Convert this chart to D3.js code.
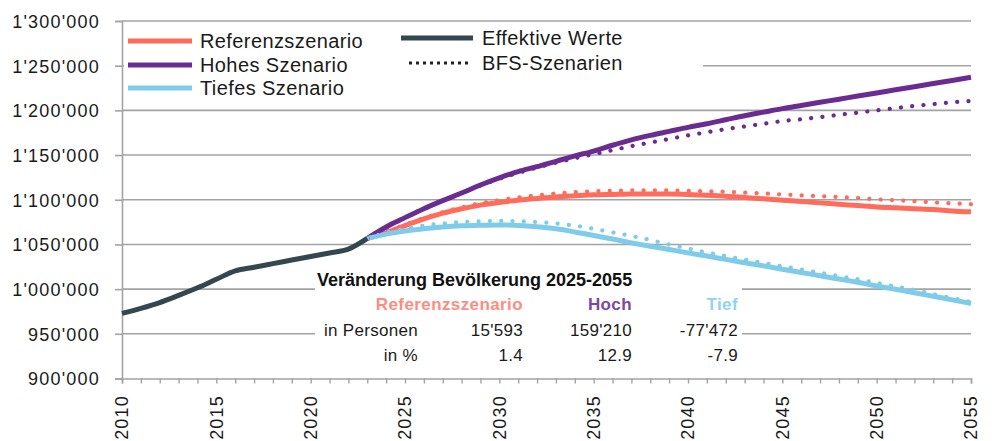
<!DOCTYPE html>
<html lang="de">
<head>
<meta charset="UTF-8">
<title>Bevölkerungsszenarien</title>
<script src="https://cdn.jsdelivr.net/npm/d3@7"></script>
<style>
    body { margin: 0; background: #fff; font-family: "Liberation Sans", Arial, sans-serif; }
    svg { display: block; }
</style>
</head>
<body>
<svg id="chart" width="992" height="441"></svg>
<script>
// effektive Werte 2010-2023
var effYears = d3.range(2010, 2024);
var effektiv = [972800, 978500, 985000, 993000, 1001500, 1011000, 1020400, 1024500, 1028500, 1032500, 1036500, 1040500, 1044700, 1056700];

// Szenarien 2023-2055
var scenYears = d3.range(2023, 2056);
var referenz = [1056700, 1063000, 1071000, 1078500, 1085000, 1090000, 1094000, 1097000, 1099500, 1101500, 1103000,
    1104500, 1105500, 1106000, 1106500, 1106500, 1106500, 1106000, 1105000, 1104000, 1102500, 1101000, 1099500,
    1098000, 1096500, 1095000, 1093500, 1092000, 1091000, 1090000, 1089000, 1087500, 1086500];
var hoch = [1056700, 1069500, 1080000, 1090000, 1099000, 1107500, 1116500, 1124500, 1131500, 1137000, 1143000,
    1149000, 1154500, 1161000, 1167000, 1172000, 1176500, 1181000, 1185000, 1189500, 1194000, 1198000, 1202000,
    1205500, 1209000, 1212500, 1216000, 1219500, 1223000, 1226500, 1230000, 1233500, 1237000];
var tief = [1056700, 1061500, 1065000, 1067500, 1069500, 1070800, 1071500, 1071800, 1071300, 1069800, 1067500,
    1064000, 1060000, 1056000, 1051800, 1048000, 1044300, 1040600, 1037000, 1033300, 1029600, 1026000, 1022300,
    1018600, 1015000, 1011300, 1007600, 1003500, 999800, 996000, 992000, 988000, 984000];

// BFS-Szenarien (gepunktet)
var bfsReferenz = [1056700, 1064000, 1072000, 1079500, 1086000, 1091500, 1096000, 1099500, 1102500, 1105000, 1107000,
    1108500, 1109500, 1110000, 1110500, 1110500, 1110500, 1110000, 1109500, 1109000, 1108000, 1107000, 1106000,
    1105000, 1104000, 1103000, 1102000, 1100500, 1099500, 1098500, 1097000, 1096000, 1095000];
var bfsHoch = [1056700, 1069000, 1080000, 1090000, 1099000, 1107500, 1116000, 1123500, 1130000, 1136000, 1141500,
    1146500, 1151000, 1155500, 1160000, 1164000, 1168000, 1172000, 1175500, 1179000, 1182000, 1185000, 1188000,
    1190000, 1192500, 1195000, 1197500, 1200000, 1202500, 1205000, 1207000, 1209000, 1210500];
var bfsTief = [1056700, 1063000, 1067500, 1071000, 1073500, 1075000, 1076000, 1076300, 1076000, 1075000, 1073500,
    1071000, 1067500, 1063500, 1059500, 1055000, 1050000, 1045500, 1041000, 1037000, 1033000, 1029300, 1025600,
    1022000, 1018300, 1014600, 1011000, 1007000, 1003000, 999000, 994500, 990000, 985500];

var yTicks = d3.range(900000, 1300001, 50000);
var xLabelYears = d3.range(2010, 2056, 5);

var tableTitle = "Veränderung Bevölkerung 2025-2055";
var tableCols = ["Referenzszenario", "Hoch", "Tief"];
var tableRows = [
    {label: "in Personen", values: ["15'593", "159'210", "-77'472"]},
    {label: "in %", values: ["1.4", "12.9", "-7.9"]}
];

var colors = {ref: "#ff6c5c", hoch: "#6b2c91", tief: "#7ecbea", eff: "#34464f"};
var headColors = ["#ff8c80", "#7a4aa0", "#8fd3ee"];

var svg = d3.select("#chart");
var m = {left: 122, right: 971, top: 21, bottom: 378.5};

var x = d3.scaleLinear().domain([2010, 2055]).range([m.left, m.right]);
var y = d3.scaleLinear().domain([900000, 1300000]).range([m.bottom, m.top]);

var loc = d3.formatLocale({decimal: ".", thousands: "'", grouping: [3], currency: ["", ""]});
var fmt = loc.format(",d");

// grid
svg.append("g").selectAll("line").data(yTicks.slice(1)).join("line")
    .attr("x1", m.left).attr("x2", m.right)
    .attr("y1", function(d){ return y(d); }).attr("y2", function(d){ return y(d); })
    .attr("stroke", "#a3a3a3").attr("stroke-width", 1.6);

// y axis
var yAxis = d3.axisLeft(y).tickValues(yTicks).tickFormat(fmt).tickSize(7).tickPadding(15);
var gy = svg.append("g").attr("transform", "translate(" + m.left + ",0)").call(yAxis);
gy.select(".domain").attr("stroke", "#a3a3a3").attr("stroke-width", 1.6);
gy.selectAll(".tick line").attr("stroke", "#a3a3a3").attr("stroke-width", 1.6);
gy.selectAll("text").attr("font-family", "Liberation Sans, Arial, sans-serif")
    .attr("font-size", 18).attr("letter-spacing", 1.2).attr("fill", "#1a1a1a").attr("dy", "0.36em");

// x axis
var xAxis = d3.axisBottom(x).tickValues(d3.range(2010, 2056)).tickSize(5).tickFormat("");
var gx = svg.append("g").attr("transform", "translate(0," + m.bottom + ")").call(xAxis);
gx.select(".domain").attr("stroke", "#a3a3a3").attr("stroke-width", 1.6);
gx.selectAll(".tick line").attr("stroke", "#a3a3a3").attr("stroke-width", 1.4);

svg.append("g").selectAll("text").data(xLabelYears).join("text")
    .attr("transform", function(d){ return "translate(" + x(d) + ",395) rotate(-90)"; })
    .attr("text-anchor", "end").attr("dy", "0.36em")
    .attr("font-size", 18).attr("letter-spacing", 1.2).attr("fill", "#1a1a1a")
    .text(function(d){ return d; });

// white boxes (legend and table) over the grid
svg.append("rect").attr("x", 124).attr("y", 24).attr("width", 579).attr("height", 76).attr("fill", "#fff");
svg.append("rect").attr("x", 315).attr("y", 264).attr("width", 427).attr("height", 112).attr("fill", "#fff");

// lines
var line = d3.line().x(function(d){ return x(d[0]); }).y(function(d){ return y(d[1]); }).curve(d3.curveMonotoneX);
function pairs(years, vals){ return years.map(function(yr, i){ return [yr, vals[i]]; }); }

var solids = [
    {vals: referenz, c: colors.ref},
    {vals: hoch, c: colors.hoch},
    {vals: tief, c: colors.tief}
];
solids.forEach(function(s){
    svg.append("path").datum(pairs(scenYears, s.vals)).attr("d", line)
        .attr("fill", "none").attr("stroke", s.c).attr("stroke-width", 5).attr("stroke-linejoin", "round");
});
var dotted = [
    {vals: bfsReferenz, c: colors.ref},
    {vals: bfsHoch, c: colors.hoch},
    {vals: bfsTief, c: colors.tief}
];
dotted.forEach(function(s){
    svg.append("path").datum(pairs(scenYears, s.vals)).attr("d", line)
        .attr("fill", "none").attr("stroke", s.c).attr("stroke-width", 4.2)
        .attr("stroke-linecap", "round").attr("stroke-dasharray", "0.1 11.2");
});
svg.append("path").datum(pairs(effYears, effektiv)).attr("d", line)
    .attr("fill", "none").attr("stroke", colors.eff).attr("stroke-width", 5).attr("stroke-linejoin", "round");

// legend
var legLeft = [
    {t: "Referenzszenario", c: colors.ref, y: 41},
    {t: "Hohes Szenario", c: colors.hoch, y: 65},
    {t: "Tiefes Szenario", c: colors.tief, y: 88}
];
var lg = svg.append("g");
legLeft.forEach(function(d){
    lg.append("line").attr("x1", 128).attr("x2", 192).attr("y1", d.y).attr("y2", d.y)
        .attr("stroke", d.c).attr("stroke-width", 5);
    lg.append("text").attr("x", 200).attr("y", d.y).attr("dy", "0.36em")
        .attr("font-size", 20).attr("letter-spacing", 0.4).attr("fill", "#1a1a1a").text(d.t);
});
lg.append("line").attr("x1", 401).attr("x2", 473).attr("y1", 38).attr("y2", 38)
    .attr("stroke", colors.eff).attr("stroke-width", 5);
lg.append("text").attr("x", 482).attr("y", 38).attr("dy", "0.36em")
    .attr("font-size", 20).attr("letter-spacing", 0.4).attr("fill", "#1a1a1a").text("Effektive Werte");
lg.append("line").attr("x1", 409).attr("x2", 470).attr("y1", 63).attr("y2", 63)
    .attr("stroke", "#222").attr("stroke-width", 3).attr("stroke-dasharray", "3 4");
lg.append("text").attr("x", 482).attr("y", 63).attr("dy", "0.36em")
    .attr("font-size", 20).attr("letter-spacing", 0.4).attr("fill", "#1a1a1a").text("BFS-Szenarien");

// table
var colRight = [523, 632, 738];
var tg = svg.append("g");
tg.append("text").attr("x", 317).attr("y", 280).attr("dy", "0.36em")
    .attr("font-size", 18).attr("font-weight", "bold").attr("fill", "#111").text(tableTitle);
tableCols.forEach(function(c, i){
    tg.append("text").attr("x", colRight[i]).attr("y", 304).attr("dy", "0.36em").attr("text-anchor", "end")
        .attr("font-size", 17).attr("font-weight", "bold").attr("letter-spacing", 0.4)
        .attr("fill", headColors[i]).text(c);
});
tableRows.forEach(function(r, j){
    var ry = 330 + j * 25;
    tg.append("text").attr("x", 418).attr("y", ry).attr("dy", "0.36em").attr("text-anchor", "end")
        .attr("font-size", 17).attr("letter-spacing", 0.3).attr("fill", "#1a1a1a").text(r.label);
    r.values.forEach(function(v, i){
        tg.append("text").attr("x", colRight[i]).attr("y", ry).attr("dy", "0.36em").attr("text-anchor", "end")
            .attr("font-size", 17).attr("letter-spacing", 0.3).attr("fill", "#1a1a1a").text(v);
    });
});
</script>
</body>
</html>
